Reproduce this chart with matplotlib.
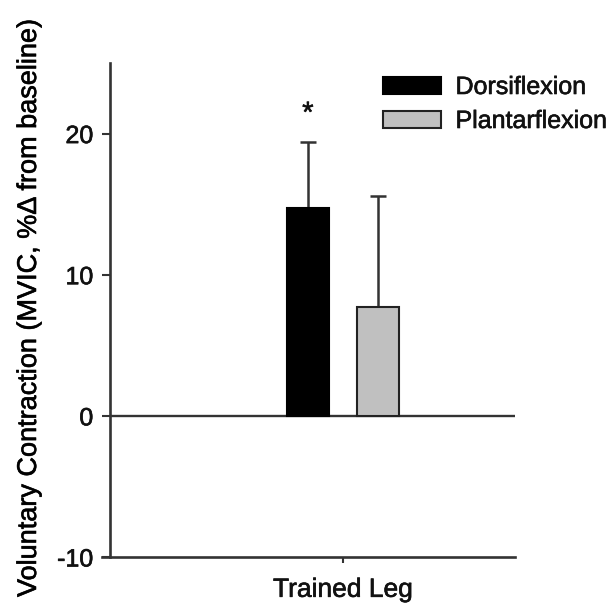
import matplotlib
matplotlib.use("Agg")
import matplotlib.pyplot as plt
import matplotlib.patheffects as pe
from matplotlib.patches import Patch

# ==== data ====
GROUPS = ["Trained Leg"]
SERIES = ["Dorsiflexion", "Plantarflexion"]
MEANS = [14.7, 7.7]
SD_UP = [4.7, 7.9]
SIG = ["*", ""]

COLORS = ["#000000", "#c0c0c0"]
EDGE = "#222222"
AXC = "#333333"

plt.rcParams["font.family"] = ["Liberation Sans", "DejaVu Sans"]
plt.rcParams["axes.unicode_minus"] = False
plt.rcParams["text.color"] = "#111111"
plt.rcParams["xtick.color"] = AXC
plt.rcParams["ytick.color"] = AXC
plt.rcParams["xtick.labelcolor"] = "#111111"
plt.rcParams["ytick.labelcolor"] = "#111111"

thick = [pe.withStroke(linewidth=0.45, foreground="#111111")]

fig = plt.figure(figsize=(6.12, 6.12), dpi=100)
ax = fig.add_axes([110 / 612, 55 / 612, 405 / 612, 494 / 612])

W = 405.0  # px per data unit on x
offsets = [-35 / W, 35 / W]
bw = 42 / W
for i, (name, m, e, c) in enumerate(zip(SERIES, MEANS, SD_UP, COLORS)):
    x = offsets[i]
    ax.bar(x, m, width=bw, color=c, edgecolor="#000000" if i == 0 else EDGE,
           linewidth=1.5, zorder=3)
    ax.errorbar(x, m, yerr=[[0], [e]], fmt="none", ecolor=AXC,
                elinewidth=1.8, capsize=6, capthick=1.8, zorder=2)
    if SIG[i]:
        ax.text(x, m + e + 2.0, SIG[i], ha="center", va="center", fontsize=21,
                path_effects=thick)

ax.axhline(0, color=AXC, lw=1.7, zorder=1)

ax.set_xlim(-0.575, 0.425)
ax.set_ylim(-10, 25)
ax.set_yticks([-10, 0, 10, 20])
ax.set_xticks([0])
ax.set_xticklabels(GROUPS)

for s in ["top", "right"]:
    ax.spines[s].set_visible(False)
for s in ["left", "bottom"]:
    ax.spines[s].set_color(AXC)
    ax.spines[s].set_linewidth(1.9)
ax.spines["bottom"].set_bounds(-0.575 - 8 / W, 0.425)

ax.tick_params(axis="y", direction="out", length=6, width=1.5,
               pad=6, labelsize=18)
ax.tick_params(axis="x", direction="out", length=4, width=1.5,
               pad=11, labelsize=19)
for t in ax.get_xticklabels() + ax.get_yticklabels():
    t.set_path_effects(thick)

ax.set_ylabel("Voluntary Contraction (MVIC, %Δ from baseline)", fontsize=19.5,
              path_effects=thick)
ax.yaxis.set_label_coords(-68 / 405, 0.505)

handles = [Patch(facecolor=c, edgecolor="#000000" if i == 0 else EDGE, linewidth=1.5)
           for i, c in enumerate(COLORS)]
leg = ax.legend(handles, SERIES, loc="upper left", bbox_to_anchor=(383 / 612, 1 - 75 / 612),
                bbox_transform=fig.transFigure, frameon=False, fontsize=18,
                handlelength=2.3, handleheight=0.68, handletextpad=0.6,
                labelspacing=0.4, borderpad=0, borderaxespad=0)
for t in leg.get_texts():
    t.set_path_effects(thick)

fig.savefig("out.png", dpi=100)
